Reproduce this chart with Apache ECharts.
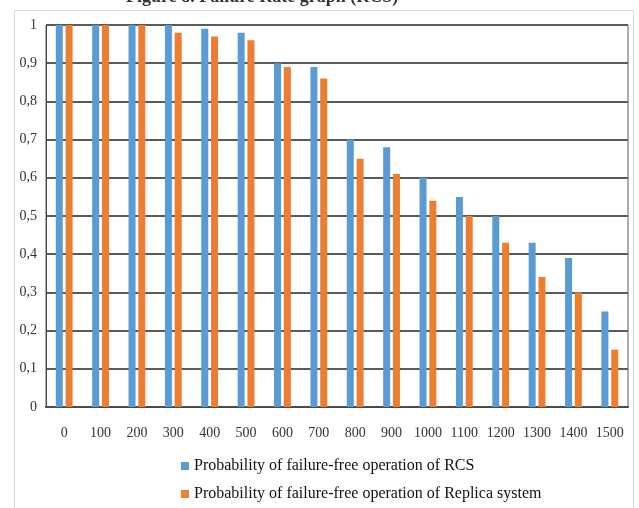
<!DOCTYPE html>
<html>
<head>
<meta charset="utf-8">
<script src="https://cdn.jsdelivr.net/npm/echarts@6/dist/echarts.min.js"></script>
<style>
  html, body { margin: 0; padding: 0; background: #fff; }
  #chart { width: 639px; height: 508px; }
</style>
</head>
<body>
<div id="chart"></div>
<script>
// Operating time points (hours)
const categories = ['0','100','200','300','400','500','600','700','800','900','1000','1100','1200','1300','1400','1500'];
// Probability of failure-free operation
const rcsValues = [1, 1, 1, 1, 0.99, 0.98, 0.90, 0.89, 0.70, 0.68, 0.60, 0.55, 0.50, 0.43, 0.39, 0.25];
const replicaValues = [1, 1, 1, 0.98, 0.97, 0.96, 0.89, 0.86, 0.65, 0.61, 0.54, 0.50, 0.43, 0.34, 0.30, 0.15];
const seriesNames = ['Probability of failure-free operation of RCS', 'Probability of failure-free operation of Replica system'];
const yTicks = [0, 0.1, 0.2, 0.3, 0.4, 0.5, 0.6, 0.7, 0.8, 0.9, 1];

const serif = '"Liberation Serif", "DejaVu Serif", serif';
const chart = echarts.init(document.getElementById('chart'));

chart.setOption({
  animation: false,
  backgroundColor: '#fff',
  graphic: [
    {
      type: 'rect', left: 12, top: 8, z: -10,
      shape: { width: 619, height: 510 },
      style: { fill: 'none', stroke: '#d9d9d9', lineWidth: 1 }
    },
    {
      type: 'text', left: 126, top: -12,
      style: { text: 'Figure 8. Failure Rate graph (RCS)', font: 'bold 18px ' + serif, fill: '#333' }
    }
  ],
  grid: { left: 46, right: 11, top: 25, bottom: 101, show: true, borderColor: '#5a5a5a', borderWidth: 1 },
  legend: {
    orient: 'vertical', left: 176, top: 453, itemGap: 12,
    itemWidth: 8, itemHeight: 8, icon: 'rect',
    textStyle: { fontFamily: serif, fontSize: 16, color: '#111' }
  },
  xAxis: {
    type: 'category', data: categories,
    axisTick: { show: false },
    axisLine: { lineStyle: { color: '#4a4a4a', width: 2 } },
    axisLabel: { fontFamily: serif, fontSize: 14, color: '#333', margin: 19, interval: 0 }
  },
  yAxis: {
    type: 'value', min: 0, max: 1, interval: 0.1,
    axisLine: { show: true, lineStyle: { color: '#4a4a4a', width: 1 } },
    axisTick: { show: false },
    splitLine: { lineStyle: { color: '#5a5a5a', width: 2 } },
    axisLabel: {
      fontFamily: serif, fontSize: 14, color: '#333', margin: 9,
      formatter: v => {
        const t = yTicks.find(x => Math.abs(x - v) < 1e-9);
        return t === undefined ? '' : String(Number(t.toFixed(1))).replace('.', ',');
      }
    }
  },
  series: [
    { name: seriesNames[0], type: 'bar', data: rcsValues, barWidth: 7, barGap: '40%', itemStyle: { color: '#5b9bd5' } },
    { name: seriesNames[1], type: 'bar', data: replicaValues, barWidth: 7, itemStyle: { color: '#ed7d31' } }
  ]
});
</script>
</body>
</html>
